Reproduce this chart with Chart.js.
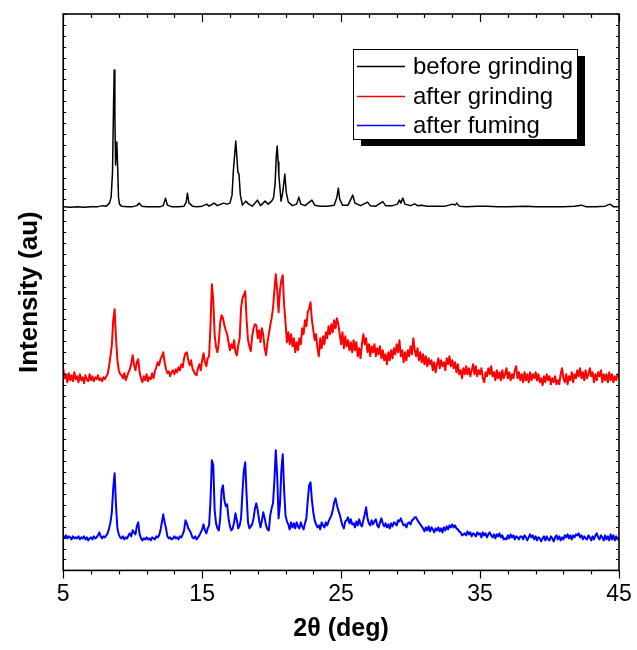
<!DOCTYPE html>
<html><head><meta charset="utf-8">
<script src="https://cdn.jsdelivr.net/npm/chart.js@4/dist/chart.umd.min.js"></script>
<style>html,body{margin:0;padding:0;background:#fff}#wrap{width:637px;height:650px}</style>
</head><body><div id="wrap"><canvas id="c" width="637" height="650"></canvas></div>
<script>
// ---- data ----
const seriesLabels = ['before grinding', 'after grinding', 'after fuming'];
const seriesColors = ['#000000', '#ff0000', '#0000ff'];
const xTickLabels = [5, 15, 25, 35, 45];

// before grinding: 2theta positions and counts above its own baseline
const blackTheta = [5,5.5,6,6.5,7,7.5,7.86,8.1,8.33,8.45,8.55,8.62,8.67,8.72,8.77,8.82,8.86,8.92,8.98,9.05,9.2,9.6,10,10.3,10.47,10.65,11,11.5,12,12.2,12.36,12.5,12.8,13.3,13.7,13.85,13.94,14.05,14.15,14.3,14.6,15,15.33,15.5,15.86,16.1,16.35,16.53,16.8,17,17.15,17.25,17.42,17.5,17.57,17.65,17.75,17.9,18.14,18.35,18.6,18.98,19.2,19.53,19.75,20,20.13,20.25,20.33,20.4,20.47,20.52,20.6,20.68,20.8,20.95,21.05,21.2,21.5,21.8,21.96,22.1,22.4,22.9,23.1,23.5,24,24.5,24.7,24.8,24.9,25.1,25.5,25.84,26,26.4,26.9,27.1,27.5,28,28.2,28.7,29.05,29.2,29.3,29.44,29.6,30,30.3,30.5,30.8,31.2,31.8,32.5,33.03,33.2,33.32,33.5,34,34.8,35.5,36.3,37,38.3,39,40,41,41.8,42.3,42.6,43.3,44,44.35,44.6,45];
const blackCounts = [0.5,0,0.5,0,0.5,0.5,1.5,1,4,10,35,100,137,90,42,60,65,40,10,3,1,0.5,0.5,1.5,4,1,0.5,0.5,0.5,1.5,9,2,0.5,0.5,1,5,14,4,3,1,0.5,1,3,1,4,1.5,3,4,3,4,12,37,66,50,35,33,12,2,6,3,1,7,1.5,6,3,6,9,23,50,61,45,32,19,6,15,33,15,5,1.5,3,10,3,1.5,7,2,1,1,2,10,19,8,2,2,12,4,1.5,5,1.5,1,5.5,1.5,1.5,3,7,4,9,3,1.5,3.3,1.5,2,1,1,1,3,2,4,1,0.5,1,1,0.5,0.5,1,0.5,0.5,0.5,1,2,0.5,0.5,1,3,0.5,0.5];
const blackOffset = 363;

// after grinding / after fuming: scans from 5 deg in 0.1 deg steps
const scanStart = 5;
const scanStep = 0.1;
const redIntensity = [
202,192,196,188,197,190,195,189,198,191,
194,188,196,190,193,187,195,191,189,196,
190,194,189,193,191,195,190,192,189,193,
191,194,196,204,214,225,250,261,232,210,
200,196,195,192,197,190,194,198,201,207,
215,205,200,208,211,198,192,188,194,190,
196,189,193,191,197,192,199,203,208,205,
211,214,218,208,201,197,199,194,198,200,
196,201,198,203,200,206,203,212,217,218,
210,205,210,202,199,196,195,202,206,200,
210,217,208,204,212,214,245,286,270,235,
223,218,228,248,255,252,245,240,236,228,
220,226,222,230,218,215,225,232,262,272,
275,279,250,230,224,219,234,242,246,245,
232,240,228,242,235,222,215,228,236,245,
252,262,280,296,280,258,280,290,295,265,
248,228,238,226,236,224,232,218,228,220,
232,226,242,236,250,244,258,262,268,250,
240,230,236,222,214,232,222,234,226,238,
232,244,236,246,238,250,242,252,246,236,
226,238,222,234,224,230,220,228,218,230,
220,228,214,222,212,226,236,226,232,218,
226,214,224,218,226,214,222,216,224,212,
220,210,216,206,218,210,220,212,222,216,
226,218,230,214,220,208,218,210,220,214,
224,216,232,220,214,222,210,218,208,216,
206,214,204,212,206,210,200,208,198,206,
212,202,210,204,208,200,212,206,214,204,
210,202,208,198,206,196,200,192,202,196,
204,196,202,194,200,206,196,204,194,200,
196,202,192,188,198,194,202,196,204,194,
198,190,200,192,198,190,200,192,196,202,
192,198,190,196,192,200,204,192,198,190,
196,188,198,190,196,188,198,190,196,192,
198,190,196,188,192,185,194,188,196,190,
194,186,192,188,194,186,190,186,196,202,
192,188,196,186,194,190,198,188,196,192,
200,194,202,192,198,190,200,192,196,202,
194,198,188,196,190,198,194,200,188,196,
190,196,188,198,190,196,188,194,190,196,
192];
const blueIntensity = [
34,33,35,32,34,33,31,34,32,33,
32,34,31,33,32,34,31,33,30,32,
33,31,34,32,33,35,38,34,32,34,
33,35,37,42,48,58,82,97,65,42,
36,33,32,34,31,33,32,35,37,34,
40,38,36,44,48,36,32,30,32,31,
33,31,32,30,33,32,31,34,33,35,
40,48,56,48,42,34,32,33,31,32,
34,32,33,31,34,33,36,40,50,47,
42,40,37,33,32,34,31,33,35,38,
41,46,40,37,42,45,70,110,105,60,
47,42,40,52,80,85,70,64,66,52,
44,40,42,48,57,50,42,45,52,78,
100,108,75,48,42,44,46,52,62,67,
60,50,43,50,58,52,45,41,40,55,
62,67,90,120,95,52,66,100,116,80,
55,49,46,41,48,43,47,42,48,44,
42,48,44,41,47,52,70,85,88,70,
58,50,46,43,45,41,48,45,43,48,
45,49,52,55,60,68,72,65,60,56,
50,45,42,49,50,53,47,51,46,47,
43,49,45,51,46,44,50,56,63,52,
47,45,50,46,49,51,45,43,48,52,
47,44,47,43,46,42,47,44,48,47,
45,50,49,52,48,45,46,43,47,48,
46,50,51,53,53,50,48,46,44,42,
39,43,40,44,39,43,41,38,42,40,
43,39,42,38,43,40,44,41,45,43,
46,43,45,42,41,39,38,35,36,37,
35,39,36,38,34,37,36,34,38,36,
37,33,38,35,37,33,36,38,35,33,
36,32,36,34,37,33,35,31,32,31,
35,32,36,33,35,31,34,33,31,34,
34,31,35,33,30,33,36,33,35,31,
34,30,33,32,29,32,34,30,34,31,
30,34,32,29,33,35,31,34,30,33,
31,35,33,36,32,35,31,35,33,36,
35,37,33,35,31,34,32,31,35,33,
30,34,31,35,37,33,31,35,33,30,
35,31,34,30,36,31,35,30,34,31,
33];

const yTop = 556;           // axis span in plot units
const yMinorDivisions = 51; // inner tick marks on the vertical axes

// ---- build datasets ----
const scanPoints = vals => vals.map((v, i) => ({ x: Math.round((scanStart + i * scanStep) * 100) / 100, y: v }));
const blackPoints = blackTheta.map((t, i) => ({ x: t, y: blackOffset + blackCounts[i] }));

const FONT = "'Liberation Sans', Arial, Helvetica, sans-serif";

const framePlugin = {
  id: 'frame',
  afterDatasetsDraw(chart) {
    const { ctx, chartArea: a, scales } = chart;
    const x = scales.x, y = scales.y;
    ctx.save();
    ctx.strokeStyle = '#000';
    ctx.lineWidth = 1.2;
    ctx.beginPath();
    x.ticks.forEach(t => {
      const px = Math.round(x.getPixelForValue(t.value)) + 0.5;
      const major = xTickLabels.includes(t.value);
      const len = major ? 8 : 4;
      ctx.moveTo(px, a.bottom); ctx.lineTo(px, a.bottom + len);
      ctx.moveTo(px, a.top); ctx.lineTo(px, a.top + len);
    });
    y.ticks.forEach(t => {
      const py = Math.round(y.getPixelForValue(t.value)) + 0.5;
      ctx.moveTo(a.left, py); ctx.lineTo(a.left + 3, py);
      ctx.moveTo(a.right, py); ctx.lineTo(a.right - 3, py);
    });
    ctx.stroke();
    ctx.lineWidth = 1.6;
    ctx.strokeRect(a.left, a.top, a.right - a.left, a.bottom - a.top);
    ctx.restore();
  },
  afterDraw(chart) {
    const ctx = chart.ctx;
    const bx = 353, by = 49, bw = 224, bh = 90;
    ctx.save();
    ctx.fillStyle = '#000';
    ctx.fillRect(bx + 8, by + 7, bw, bh);
    ctx.fillStyle = '#fff';
    ctx.fillRect(bx, by, bw, bh);
    ctx.strokeStyle = '#000';
    ctx.lineWidth = 1;
    ctx.strokeRect(bx + 0.5, by + 0.5, bw, bh);
    const rows = [66, 96, 125];
    ctx.font = '24px ' + FONT;
    ctx.textBaseline = 'middle';
    ctx.textAlign = 'left';
    chart.data.datasets.forEach((ds, i) => {
      ctx.strokeStyle = ds.borderColor;
      ctx.lineWidth = 1.5;
      ctx.beginPath();
      ctx.moveTo(357, rows[i] + 0.5); ctx.lineTo(405, rows[i] + 0.5);
      ctx.stroke();
      ctx.fillStyle = '#000';
      ctx.fillText(ds.label, 413, rows[i] + 1);
    });
    ctx.restore();
  }
};

new Chart(document.getElementById('c'), {
  type: 'line',
  data: {
    datasets: [
      { label: seriesLabels[0], data: blackPoints, borderColor: seriesColors[0], borderWidth: 1.5 },
      { label: seriesLabels[1], data: scanPoints(redIntensity), borderColor: seriesColors[1], borderWidth: 2 },
      { label: seriesLabels[2], data: scanPoints(blueIntensity), borderColor: seriesColors[2], borderWidth: 2 }
    ]
  },
  options: {
    responsive: false,
    animation: false,
    devicePixelRatio: 1,
    layout: { padding: { left: 14, right: 18, top: 14, bottom: 0 } },
    elements: { point: { radius: 0 }, line: { tension: 0, borderJoinStyle: 'round' } },
    plugins: { legend: { display: false }, tooltip: { enabled: false } },
    scales: {
      x: {
        type: 'linear', position: 'bottom', min: 5, max: 45,
        grid: { display: true, drawOnChartArea: false, drawTicks: true, tickLength: 6, tickColor: 'rgba(0,0,0,0)' },
        border: { display: false },
        ticks: {
          stepSize: 2, autoSkip: false, maxRotation: 0, padding: 4,
          color: '#000', font: { family: FONT, size: 23 },
          callback: v => xTickLabels.includes(v) ? String(v) : ''
        },
        title: { display: true, text: '2θ (deg)', color: '#000', font: { family: FONT, size: 25, weight: 'bold' }, padding: { top: 2, bottom: 6 } }
      },
      y: {
        type: 'linear', min: 0, max: yTop,
        grid: { display: false, drawTicks: false },
        border: { display: false },
        ticks: { display: false, stepSize: yTop / yMinorDivisions },
        title: { display: true, text: 'Intensity (au)', color: '#000', font: { family: FONT, size: 26, weight: 'bold' }, padding: { top: 0, bottom: 18 } }
      }
    }
  },
  plugins: [framePlugin]
});
</script>
</body></html>
